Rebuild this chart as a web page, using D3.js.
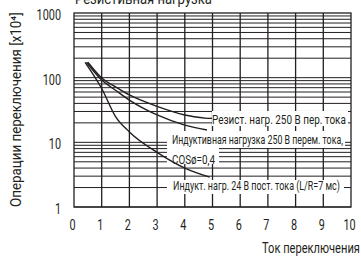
<!DOCTYPE html>
<html>
<head>
<meta charset="utf-8">
<script src="https://cdn.jsdelivr.net/npm/d3@7"></script>
<style>
  body { margin: 0; background: #fff; }
  svg { display: block; font-family: Roboto, "DejaVu Sans", sans-serif; }
</style>
</head>
<body>
<svg id="chart" width="361" height="256"></svg>
<script>
// data
const xTicks = [0, 1, 2, 3, 4, 5, 6, 7, 8, 9, 10];
const yTicks = [1, 10, 100, 1000];

const resistX = [0.5, 1, 1.5, 2, 3, 4, 4.8];
const resistY = [173, 99, 72, 54, 36, 26.5, 23.5];

const acIndX = [0.45, 1, 1.5, 2, 3, 4, 4.8];
const acIndY = [173, 92, 64, 45, 26.5, 18.5, 15.5];

const dcIndX = [0.4, 1, 1.5, 2, 3, 4, 4.9];
const dcIndY = [173, 68, 25, 14.5, 7, 4, 2.9];

const svg = d3.select("#chart");
const ink = "#231f20";

let x = d3.scaleLinear().domain([0, 10]).range([74, 351]);
let y = d3.scaleLog().domain([1, 1000]).range([207, 13]);

// squeeze a text horizontally (condensed look) around its anchor point
function place(t, px, py, sx) {
  t.attr("x", 0).attr("y", 0)
    .attr("transform", `translate(${px},${py}) scale(${sx},1)`);
}
function fit(t, px, py, w) {
  place(t, px, py, 1);
  let nat = t.node().getComputedTextLength();
  place(t, px, py, w / nat);
}

// horizontal log grid
let minor = [];
for (let d = 1; d < 1000; d *= 10) {
  for (let k = 1; k < 10; k++) minor.push(d * k);
}
svg.append("g").selectAll("line").data(minor).enter().append("line")
  .attr("x1", x(0)).attr("x2", x(10))
  .attr("y1", d => y(d)).attr("y2", d => y(d))
  .attr("stroke", ink).attr("stroke-width", 1);

// vertical grid
svg.append("g").selectAll("line").data(xTicks.slice(1, -1)).enter().append("line")
  .attr("x1", d => x(d)).attr("x2", d => x(d))
  .attr("y1", y(1000)).attr("y2", y(1))
  .attr("stroke", ink).attr("stroke-width", 1.3);

svg.append("rect")
  .attr("x", x(0)).attr("y", y(1000))
  .attr("width", x(10) - x(0)).attr("height", y(1) - y(1000))
  .attr("fill", "none").attr("stroke", ink).attr("stroke-width", 1.3);

// labels on white boxes (they hide the grid behind them)
function label(boxes, lines) {
  boxes.forEach(b => {
    svg.append("rect").attr("x", b[0]).attr("y", b[1])
      .attr("width", b[2]).attr("height", b[3]).attr("fill", "#fff");
  });
  lines.forEach(l => {
    let t = svg.append("text").attr("font-size", l.size).attr("fill", ink).text(l.t);
    fit(t, l.x, l.y, l.w);
  });
}
label([[212, 111, 136, 15]], [{ x: 212, y: 123.5, size: 12.5, w: 134, t: "Резист. нагр. 250 В пер. тока" }]);
label([[167, 131, 178, 17], [167, 148, 52, 16]], [
  { x: 172, y: 144, size: 12, w: 171, t: "Индуктивная нагрузка 250 В перем. тока," },
  { x: 172, y: 163.5, size: 12, w: 43, t: "COSø=0,4" }
]);
label([[167, 180, 177, 14]], [{ x: 173, y: 190, size: 12, w: 167, t: "Индукт. нагр. 24 В пост. тока (L/R=7 мс)" }]);

// curves drawn over the label boxes
let line = d3.line().x(d => x(d[0])).y(d => y(d[1])).curve(d3.curveMonotoneX);
[[resistX, resistY], [acIndX, acIndY], [dcIndX, dcIndY]].forEach(s => {
  svg.append("path")
    .datum(d3.zip(s[0], s[1]))
    .attr("d", line)
    .attr("fill", "none").attr("stroke", ink).attr("stroke-width", 1.4);
});

// stub from resistive curve to its label
svg.append("line")
  .attr("x1", x(4.8)).attr("x2", 212)
  .attr("y1", y(23.5)).attr("y2", y(23.5))
  .attr("stroke", ink).attr("stroke-width", 1.3);

// axis tick labels
svg.append("g").selectAll("text").data(yTicks).enter().append("text")
  .attr("text-anchor", "end").attr("font-size", 14.5).attr("fill", ink)
  .text(d => d)
  .each(function (d) { place(d3.select(this), 61, y(d) + 7, 0.75); });

svg.append("g").selectAll("text").data(xTicks).enter().append("text")
  .attr("text-anchor", "middle").attr("font-size", 14.5).attr("fill", ink)
  .text(d => d)
  .each(function (d) { place(d3.select(this), x(d) - 1.5, 230, 0.75); });

// titles (the top one is cut by the frame edge, as in the source)
let title = svg.append("text").attr("font-size", 14.5).attr("fill", ink)
  .text("Резистивная нагрузка");
fit(title, 75, 4, 137);

let xTitle = svg.append("text").attr("font-size", 14).attr("fill", ink)
  .text("Ток переключения");
fit(xTitle, 262, 253, 98);

let yTitle = svg.append("text").attr("font-size", 14.5).attr("fill", ink)
  .text("Операции переключения [x10⁴]");
yTitle.attr("x", 0).attr("y", 0);
let yNat = yTitle.node().getComputedTextLength();
yTitle.attr("transform", `translate(21,207) rotate(-90) scale(${195 / yNat},1)`);
</script>
</body>
</html>
